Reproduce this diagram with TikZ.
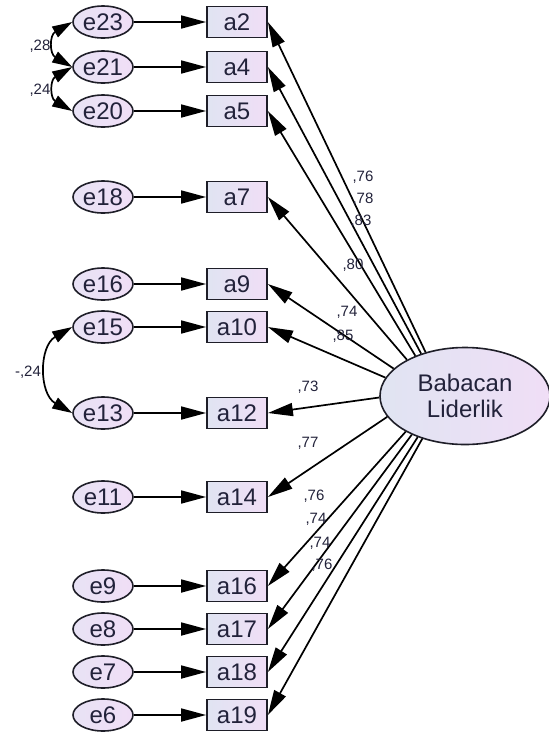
\documentclass[tikz,border=0pt]{standalone}
\usepackage{fontspec}
\setmainfont{Liberation Sans}
\usetikzlibrary{arrows.meta,shapes.geometric}
\definecolor{Ln}{RGB}{30,30,40}
\definecolor{Tx}{RGB}{34,34,58}
\definecolor{Bl}{RGB}{224,228,242}
\definecolor{Pk}{RGB}{240,222,246}
\definecolor{Lv}{RGB}{234,226,246}
\newcommand{\coef}[4]{\node[coeflbl] (#1) at (#3,#4) {#2};}
\tikzset{
  errnode/.style={ellipse, draw=Ln, line width=1.6pt, inner sep=0pt, minimum width=60pt, minimum height=32pt,
    left color=Lv!80!Bl, right color=Pk, text=Tx, font=\fontsize{24}{26}\selectfont},
  obsbox/.style={rectangle, draw=Ln, line width=1.8pt, inner sep=0pt, minimum width=60pt, minimum height=31pt,
    left color=Bl, right color=Pk, text=Tx, font=\fontsize{24}{26}\selectfont},
  latnode/.style={ellipse, draw=Ln, line width=1.6pt, inner sep=0pt, minimum width=170pt, minimum height=97pt,
    left color=Bl, right color=Pk, text=Tx, align=center, font=\fontsize{24}{26}\selectfont},
  reg/.style={line width=1.7pt, -{Triangle[length=25pt,width=13pt]}},
  cov/.style={line width=1.7pt, {Triangle[length=20pt,width=12pt]}-{Triangle[length=20pt,width=12pt]}},
  coeflbl/.style={inner sep=0pt, text=Tx, font=\fontsize{15}{15}\selectfont}
}
\begin{document}
\begin{tikzpicture}[x=1pt,y=-1pt]
\useasboundingbox (0,0) rectangle (549,740);
\node[latnode] (lat) at (465,396) {Babacan\\Liderlik};
\foreach \e/\a/\y in {23/2/22,21/4/67,20/5/111,18/7/197,16/9/284,15/10/327,13/12/413,11/14/497,9/16/586,8/17/629,7/18/672,6/19/715}{
    \node[errnode] (e\e) at (103,\y) {e\e};
    \node[obsbox] (a\a) at (237,\y) {a\a};
    \draw[reg] (e\e) -- (a\a);
}
\foreach \a/\ang in {2/132,4/136,5/141,7/148,9/159,10/167,12/181,14/195,16/211,17/216,18/221,19/225}{
    \draw[reg] (lat.\ang) -- (a\a.east);
}
\draw[cov] (e23.west) to[bend right=60,looseness=1.5] (e21.west);
\draw[cov] (e21.west) to[bend right=60,looseness=1.5] (e20.west);
\draw[cov] (e15.west) to[bend right=60,looseness=1.15] (e13.west);
\coef{c1}{,28}{40}{46}\coef{c2}{,24}{40}{90}\coef{c3}{-,24}{28}{372}
\coef{w2}{,76}{363}{177}\coef{w4}{,78}{363}{199}\coef{w5}{,83}{361}{221}\coef{w7}{,80}{353}{265}
\coef{w9}{,74}{347}{312}\coef{w10}{,85}{343}{336}\coef{w12}{,73}{308}{387}\coef{w14}{,77}{308}{443}
\coef{w16}{,76}{314}{496}\coef{w17}{,74}{316}{519}\coef{w18}{,74}{320}{543}\coef{w19}{,76}{322}{565}
\end{tikzpicture}
\end{document}
